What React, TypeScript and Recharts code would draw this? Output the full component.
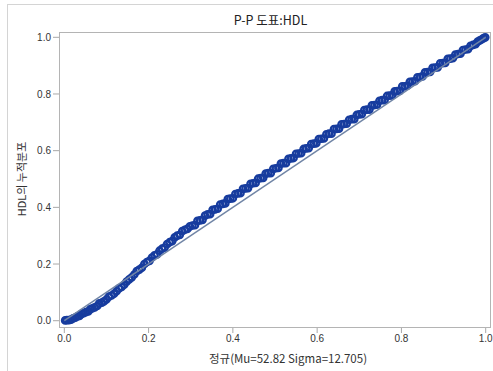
import { ScatterChart, Scatter, XAxis, YAxis } from 'recharts'

// P-P plot: normal CDF (x) vs empirical CDF of HDL (y)
const normalCdf = [
  0.002, 0.006, 0.011, 0.016, 0.021, 0.026, 0.031, 0.036, 0.041, 0.046,
  0.051, 0.057, 0.062, 0.067, 0.072, 0.078, 0.083, 0.089, 0.094, 0.1,
  0.106, 0.112, 0.118, 0.124, 0.13, 0.136, 0.142, 0.148, 0.154, 0.16,
  0.166, 0.172, 0.178, 0.184, 0.19, 0.196, 0.202, 0.208, 0.214, 0.22,
  0.226, 0.232, 0.238, 0.244, 0.25, 0.256, 0.262, 0.268, 0.274, 0.28,
  0.286, 0.292, 0.298, 0.304, 0.31, 0.316, 0.322, 0.328, 0.334, 0.34,
  0.346, 0.352, 0.358, 0.364, 0.37, 0.376, 0.382, 0.388, 0.394, 0.4,
  0.406, 0.412, 0.418, 0.424, 0.43, 0.436, 0.442, 0.448, 0.454, 0.46,
  0.466, 0.472, 0.478, 0.484, 0.49, 0.496, 0.502, 0.508, 0.514, 0.52,
  0.526, 0.532, 0.538, 0.544, 0.55, 0.556, 0.562, 0.568, 0.574, 0.58,
  0.586, 0.592, 0.598, 0.604, 0.61, 0.616, 0.622, 0.628, 0.634, 0.64,
  0.646, 0.652, 0.658, 0.664, 0.67, 0.676, 0.682, 0.688, 0.694, 0.7,
  0.706, 0.712, 0.718, 0.724, 0.73, 0.736, 0.742, 0.748, 0.754, 0.76,
  0.766, 0.772, 0.778, 0.784, 0.79, 0.796, 0.802, 0.808, 0.814, 0.82,
  0.826, 0.832, 0.838, 0.844, 0.85, 0.856, 0.862, 0.868, 0.874, 0.88,
  0.886, 0.892, 0.898, 0.904, 0.91, 0.916, 0.922, 0.928, 0.934, 0.94,
  0.946, 0.952, 0.958, 0.964, 0.97, 0.976, 0.981, 0.986, 0.991, 0.995,
  0.999,
]

const hdlCdf = [
  0.001, 0.002, 0.002, 0.004, 0.008, 0.011, 0.015, 0.017, 0.024, 0.027,
  0.03, 0.033, 0.041, 0.044, 0.047, 0.052, 0.061, 0.064, 0.068, 0.075,
  0.085, 0.089, 0.095, 0.104, 0.114, 0.119, 0.127, 0.138, 0.146, 0.153,
  0.163, 0.175, 0.18, 0.187, 0.2, 0.207, 0.211, 0.223, 0.231, 0.234,
  0.247, 0.254, 0.258, 0.27, 0.277, 0.281, 0.294, 0.3, 0.303, 0.316,
  0.321, 0.324, 0.333, 0.336, 0.337, 0.352, 0.354, 0.356, 0.371, 0.375,
  0.376, 0.391, 0.393, 0.395, 0.41, 0.412, 0.414, 0.429, 0.431, 0.432,
  0.447, 0.449, 0.45, 0.465, 0.467, 0.468, 0.483, 0.485, 0.486, 0.501,
  0.503, 0.504, 0.519, 0.521, 0.521, 0.536, 0.538, 0.539, 0.554, 0.556,
  0.556, 0.571, 0.573, 0.574, 0.589, 0.59, 0.591, 0.606, 0.608, 0.609,
  0.623, 0.625, 0.626, 0.641, 0.642, 0.643, 0.658, 0.66, 0.66, 0.676,
  0.677, 0.678, 0.693, 0.694, 0.695, 0.709, 0.711, 0.711, 0.726, 0.728,
  0.729, 0.743, 0.745, 0.745, 0.76, 0.761, 0.762, 0.776, 0.778, 0.778,
  0.793, 0.794, 0.795, 0.809, 0.81, 0.811, 0.827, 0.827, 0.829, 0.843,
  0.844, 0.845, 0.859, 0.86, 0.862, 0.876, 0.877, 0.878, 0.892, 0.893,
  0.894, 0.908, 0.909, 0.91, 0.924, 0.925, 0.926, 0.939, 0.941, 0.942,
  0.955, 0.957, 0.958, 0.97, 0.973, 0.976, 0.985, 0.989, 0.993, 0.997,
  1.0,
]

const diagonal = [0, 1]
const axisTicks = [0, 0.2, 0.4, 0.6, 0.8, 1.0]

const points = normalCdf.map((x, i) => ({ x, y: hdlCdf[i] }))
const refLine = diagonal.map((v) => ({ x: v, y: v }))

const font = 'Arial, "Liberation Sans", "Noto Sans CJK KR", sans-serif'
const korean = '"Noto Sans CJK KR", Arial, sans-serif'

function Marker(props: any) {
  if (props.cx == null || props.cy == null) return <g />
  return <circle cx={props.cx} cy={props.cy} r={3.2} fill="none" stroke="#173c9e" strokeWidth={2.3} />
}

export default function App() {
  return (
    <div style={{ position: 'absolute', left: 0, top: 0, width: 493, height: 371, background: '#fff', overflow: 'hidden' }}>
      <div style={{ position: 'absolute', left: 7, top: 4, width: 500, height: 400, borderLeft: '1px solid #d4d4d4', borderTop: '1px solid #d4d4d4' }} />
      <ScatterChart width={493} height={371} margin={{ top: 32, right: 3, bottom: 14, left: 0 }}>
        <XAxis
          type="number"
          dataKey="x"
          domain={[-0.0126, 1.0102]}
          ticks={axisTicks}
          allowDataOverflow
          height={30}
          tickSize={6}
          axisLine={false}
          tickLine={{ stroke: '#a8a8a8' }}
          tick={{ fontSize: 10, fill: '#333', fontFamily: font }}
          tickFormatter={(v: number) => v.toFixed(1)}
        />
        <YAxis
          type="number"
          dataKey="y"
          domain={[-0.0222, 1.0187]}
          ticks={axisTicks}
          allowDataOverflow
          width={59}
          tickSize={6}
          axisLine={false}
          tickLine={{ stroke: '#a8a8a8' }}
          tick={{ fontSize: 10, fill: '#333', fontFamily: font }}
          tickFormatter={(v: number) => v.toFixed(1)}
        />
        <Scatter data={points} shape={Marker} isAnimationActive={false} />
        <Scatter
          data={refLine}
          line={{ stroke: '#7185a6', strokeWidth: 1.5 }}
          shape={() => <g />}
          isAnimationActive={false}
        />
      </ScatterChart>
      <div style={{ position: 'absolute', left: 59, top: 32, width: 430, height: 294, border: '1px solid #b4b4b4', pointerEvents: 'none' }} />
      <div style={{ position: 'absolute', left: 0, width: 493, top: 12, textAlign: 'center', paddingLeft: 48, boxSizing: 'border-box', fontSize: 12.5, color: '#222', fontFamily: korean, lineHeight: '16px' }}>
        P-P 도표:HDL
      </div>
      <div style={{ position: 'absolute', left: 0, width: 493, top: 350, textAlign: 'center', paddingLeft: 83, boxSizing: 'border-box', fontSize: 11.5, color: '#333', fontFamily: korean, lineHeight: '16px' }}>
        정규(Mu=52.82 Sigma=12.705)
      </div>
      <div style={{ position: 'absolute', left: 21, top: 179, transform: 'translate(-50%, -50%) rotate(-90deg)', whiteSpace: 'nowrap', fontSize: 11, color: '#333', fontFamily: korean, lineHeight: '14px' }}>
        HDL의 누적분포
      </div>
    </div>
  )
}
